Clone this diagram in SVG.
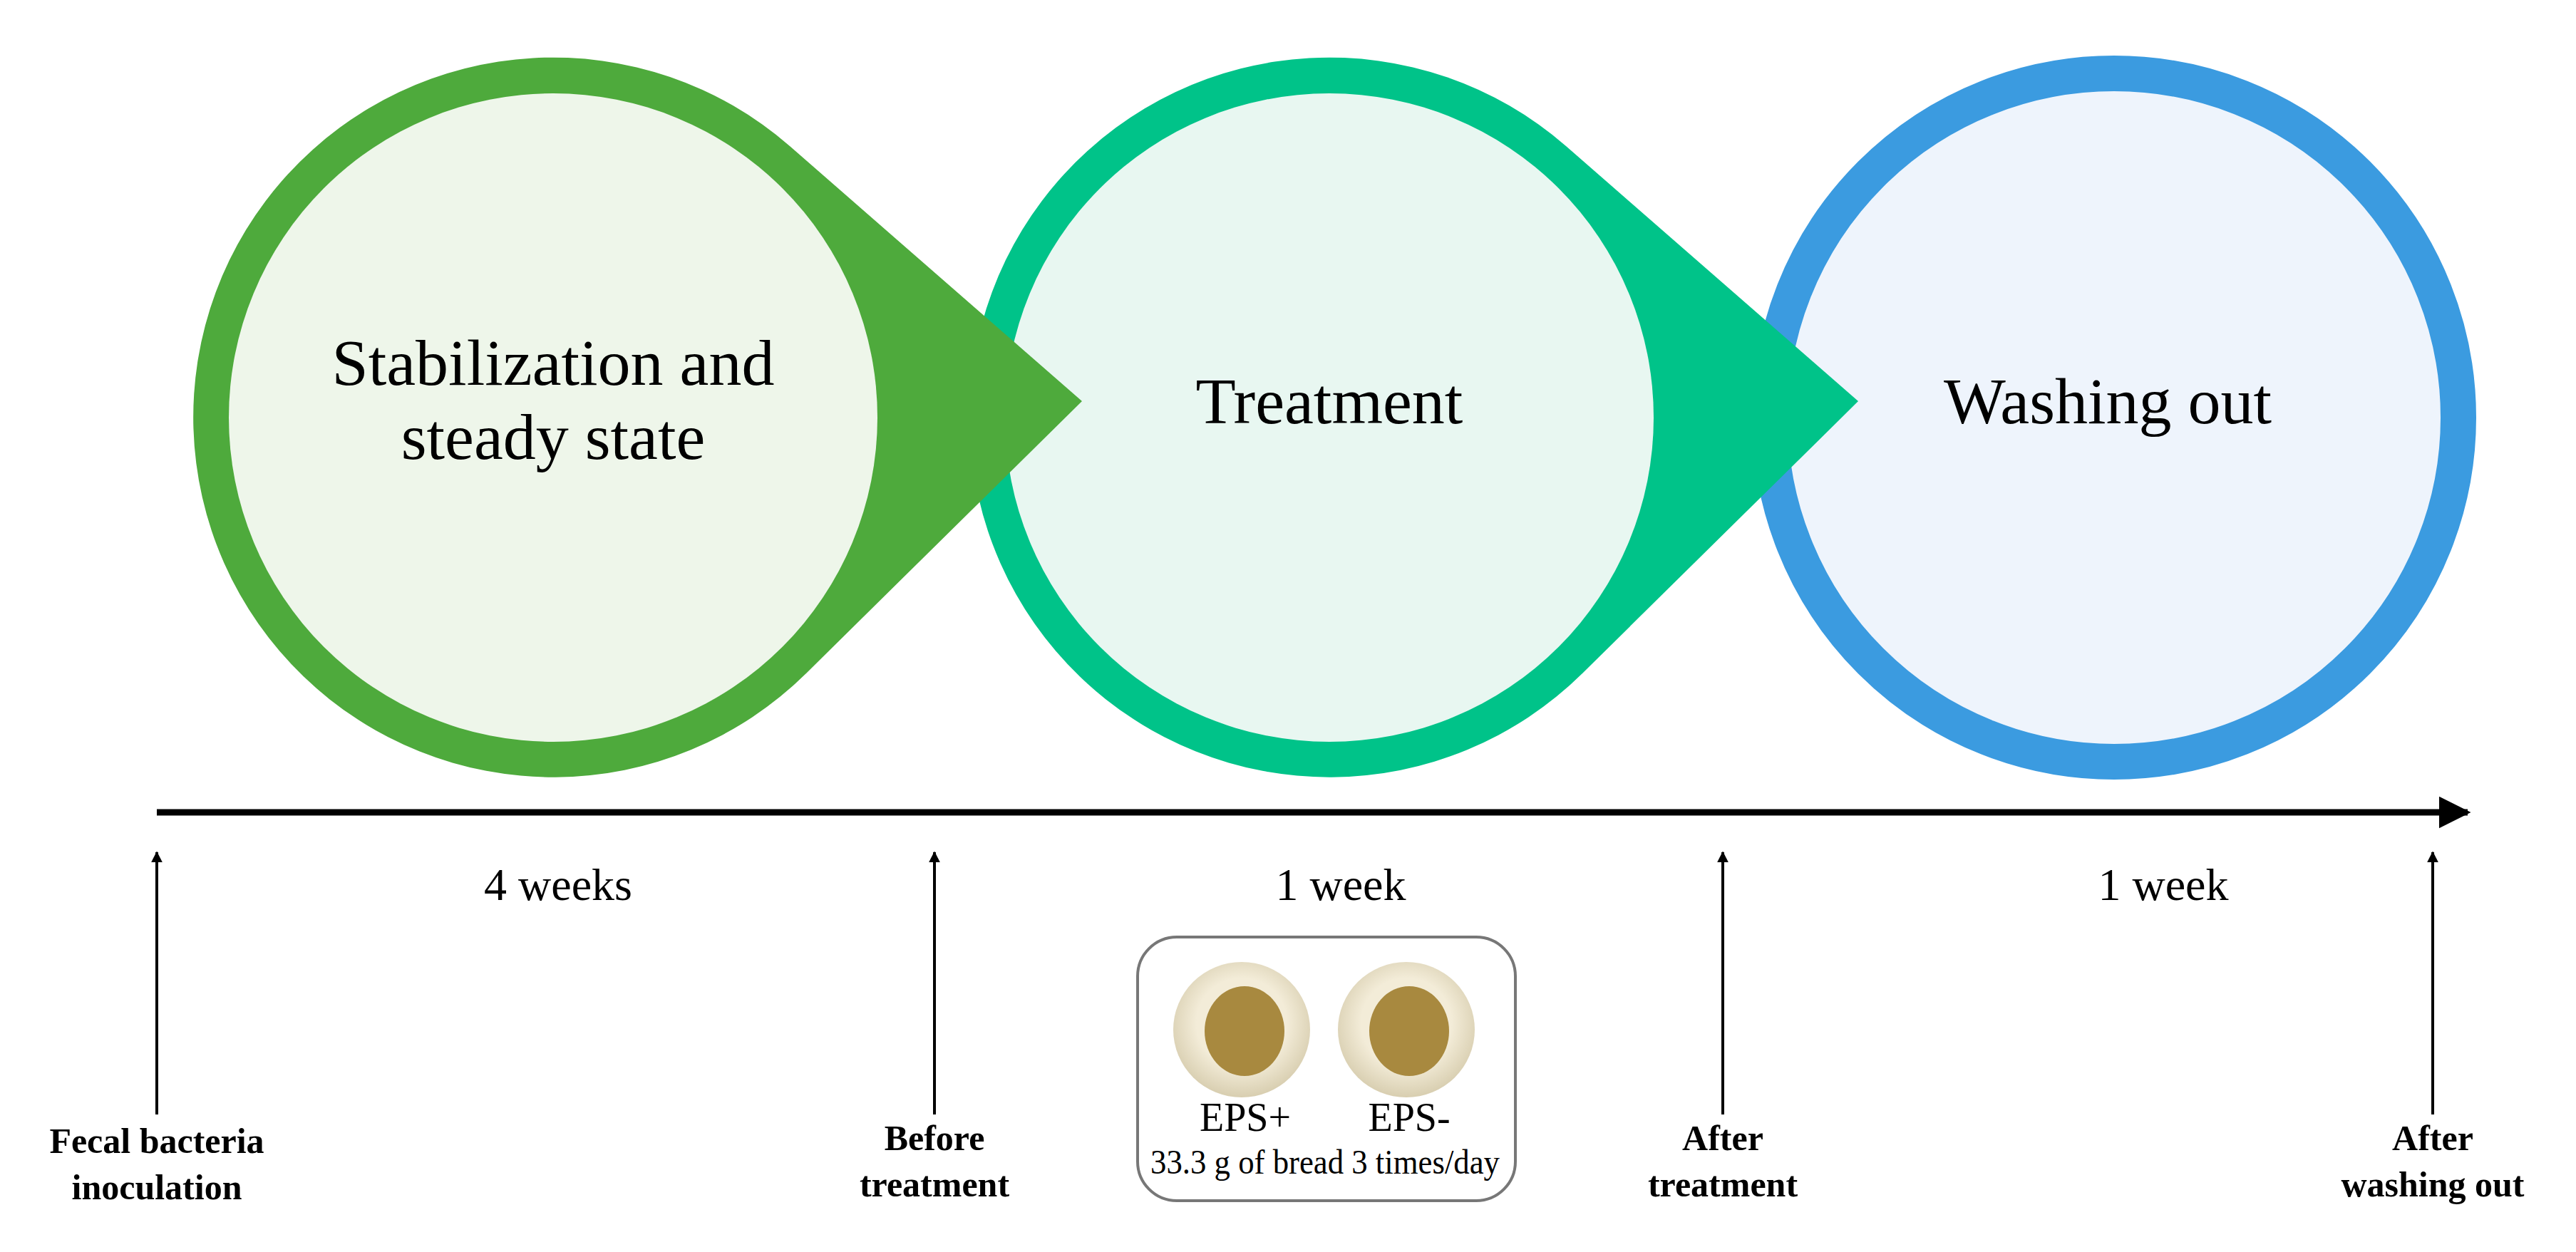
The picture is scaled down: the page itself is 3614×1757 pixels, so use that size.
<svg xmlns="http://www.w3.org/2000/svg" width="3614" height="1757" viewBox="0 0 3614 1757">
<style>
text{font-family:"Liberation Serif","Times New Roman",serif;fill:#000}
.t{font-size:92px;text-anchor:middle}
.d{font-size:64px;text-anchor:middle}
.b{font-size:50px;font-weight:bold;text-anchor:middle}
.ax{stroke:#000;stroke-width:4;fill:none}
</style>
<defs>
<marker id="ah" viewBox="0 0 10 10" refX="9" refY="5" markerWidth="5" markerHeight="5" orient="auto"><path d="M0,0L10,5L0,10z" fill="#000"/></marker>
<marker id="ahs" viewBox="0 0 10 10" refX="9" refY="5" markerWidth="4" markerHeight="4" orient="auto"><path d="M0,0L10,5L0,10z" fill="#000"/></marker>
<radialGradient id="plate" cx="0.5" cy="0.45" r="0.55"><stop offset="0.6" stop-color="#f3ecd8"/><stop offset="1" stop-color="#d8ceb0"/></radialGradient>
</defs>
<g id="washing">
<circle cx="2966" cy="586" r="483" fill="#eef4fc" stroke="#3b9be0" stroke-width="50"/>
<text class="t" x="2957" y="594">Washing out</text>
</g>
<g id="treatment">
<path d="M2197 205 L2607 563 L2220 945 A505 505 0 1 1 2197 205 Z" fill="#00c389"/>
<circle cx="1865" cy="586" r="455" fill="#e8f7f1"/>
<text class="t" x="1865" y="594">Treatment</text>
</g>
<g id="stabilization">
<path d="M1108 205 L1518 563 L1131 945 A505 505 0 1 1 1108 205 Z" fill="#4eaa3c"/>
<circle cx="776" cy="586" r="455" fill="#eef6ea"/>
<text class="t" x="776" y="540">Stabilization and</text>
<text class="t" x="776" y="644">steady state</text>
</g>
<g id="connectors">
<line x1="220" y1="1140" x2="3462" y2="1140" stroke="#000" stroke-width="9" marker-end="url(#ah)"/>
<line class="ax" x1="220" y1="1564" x2="220" y2="1196" marker-end="url(#ahs)"/>
<line class="ax" x1="1311" y1="1564" x2="1311" y2="1196" marker-end="url(#ahs)"/>
<line class="ax" x1="2417" y1="1564" x2="2417" y2="1196" marker-end="url(#ahs)"/>
<line class="ax" x1="3413" y1="1564" x2="3413" y2="1196" marker-end="url(#ahs)"/>
</g>
<g id="durations">
<text class="d" x="783" y="1263">4 weeks</text>
<text class="d" x="1881" y="1263">1 week</text>
<text class="d" x="3035" y="1263">1 week</text>
</g>
<g id="labels">
<text class="b" x="220" y="1618">Fecal bacteria</text>
<text class="b" x="220" y="1683">inoculation</text>
<text class="b" x="1311" y="1614">Before</text>
<text class="b" x="1311" y="1679">treatment</text>
<text class="b" x="2417" y="1614">After</text>
<text class="b" x="2417" y="1679">treatment</text>
<text class="b" x="3413" y="1614">After</text>
<text class="b" x="3413" y="1679">washing out</text>
</g>
<g id="bread-box">
<rect x="1596" y="1315" width="530" height="370" rx="55" fill="#fff" stroke="#777" stroke-width="4"/>
<ellipse cx="1742" cy="1445" rx="96" ry="95" fill="url(#plate)"/>
<ellipse cx="1746" cy="1447" rx="56" ry="63" fill="#a8893f"/>
<ellipse cx="1973" cy="1445" rx="96" ry="95" fill="url(#plate)"/>
<ellipse cx="1977" cy="1447" rx="56" ry="63" fill="#a8893f"/>
<text x="1747" y="1587" font-size="56" text-anchor="middle">EPS+</text>
<text x="1977" y="1587" font-size="56" text-anchor="middle">EPS-</text>
<text x="1859" y="1647" font-size="48" text-anchor="middle" textLength="490" lengthAdjust="spacingAndGlyphs">33.3 g of bread 3 times/day</text>
</g>
</svg>
